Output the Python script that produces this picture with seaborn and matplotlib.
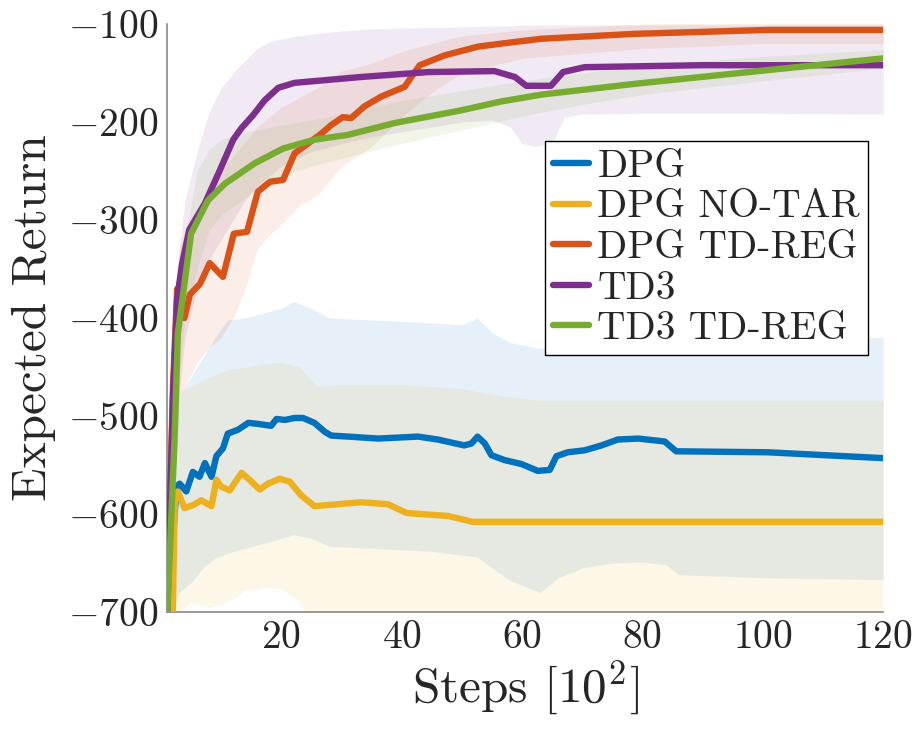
import pandas as pd
import numpy as np
import seaborn as sns
import matplotlib
matplotlib.use("Agg")
import matplotlib.pyplot as plt

# mean curves (steps in units of 10^2)
dpg_x = [1, 2.6, 3.1, 4.2, 5.3, 6.4, 7.3, 8.4, 9.2, 10.3, 11.1, 12.8, 14.5, 16.1, 18.3, 19.2,
         20.6, 22.2, 23.6, 25.5, 27.2, 28.3, 31.1, 36.1, 42.7, 46, 50.4, 51.6, 52.6, 53.8, 54.9,
         57.1, 59.9, 62.6, 64.6, 65.7, 67.6, 70.4, 73.2, 75.9, 79.3, 83.7, 85.6, 100.8, 120]
dpg_y = [-710, -572, -569, -577, -557, -562, -548, -562, -541, -533, -518, -514, -507, -508, -510, -503,
         -504, -502, -502, -507, -516, -520, -521, -523, -521, -524, -530, -528, -521, -528, -540,
         -545, -549, -556, -555, -541, -537, -535, -530, -524, -523, -526, -536, -537, -543]

notar_x = [1.9, 2.3, 2.8, 3.9, 5.3, 6.7, 8.4, 9.2, 10.0, 11.4, 13.4, 14.7, 16.4, 17.8, 19.7, 21.4,
           23.3, 25.5, 33.3, 37.7, 40.8, 47.7, 51.8, 60, 120]
notar_y = [-720, -586, -577, -594, -591, -586, -592, -565, -572, -576, -558, -565, -575, -569, -564, -567,
           -581, -592, -588, -590, -599, -602, -608, -608, -608]

dpgreg_x = [1, 2, 2.7, 3.9, 4.8, 6.5, 8.1, 10.3, 12.1, 14.3, 16.1, 18.1, 20.3, 22.2, 24.4, 26.6,
            28.3, 30.2, 31.6, 33.8, 36.6, 40.5, 41.6, 43, 47.1, 52.7, 56.5, 63.2, 78.7, 100.8, 120]
dpgreg_y = [-710, -470, -370, -400, -376, -365, -344, -358, -314, -312, -271, -261, -259, -232, -222, -212,
            -203, -195, -196, -184, -174, -164, -154, -142, -132, -123, -120, -115, -110, -106, -106]

td3_x = [1, 2, 2.7, 3.5, 4.7, 7.3, 9.8, 12.0, 13.4, 15.3, 17.2, 19.5, 22.2, 33.3, 44.4, 55.4,
         58.8, 60.7, 64.8, 66.8, 70.4, 89.8, 120]
td3_y = [-710, -480, -380, -345, -310, -283, -249, -218, -206, -193, -178, -165, -160, -154, -149, -148,
         -154, -163, -163, -149, -144, -142, -142]

td3reg_x = [1, 2.3, 2.8, 3.9, 5.0, 7.8, 10.6, 15.6, 20.3, 25.5, 31.1, 38.8, 49.9, 56.5, 63.2, 78.7, 100.8, 120]
td3reg_y = [-710, -517, -416, -365, -314, -280, -263, -242, -227, -218, -213, -201, -188, -179, -172, -161, -147, -135]

# shaded bands
dpg_bx = [1, 2, 3, 5, 7, 9, 11, 14, 17, 20, 22, 25, 28, 35, 45, 50, 52.6, 55, 58, 63, 66, 70, 75, 80, 84, 86, 100, 120]
dpg_hi = [-690, -560, -480, -460, -440, -420, -402, -400, -395, -390, -383, -390, -400, -402, -405, -407,
          -400, -415, -425, -431, -428, -422, -419, -418, -418, -419, -419, -420]
dpg_lo = [-720, -700, -680, -670, -655, -645, -640, -635, -630, -625, -621, -625, -633, -635, -638, -642,
          -644, -655, -668, -680, -665, -655, -650, -649, -652, -662, -665, -667]

notar_bx = [1, 2, 3, 5, 8, 11, 14, 17, 20, 23, 26, 30, 40, 50, 55, 60, 63, 66, 70, 80, 86, 100, 120]
notar_hi = [-690, -520, -475, -470, -460, -453, -450, -447, -445, -450, -470, -468, -468, -472, -478, -482,
            -484, -484, -484, -484, -484, -484, -484]
notar_lo = [-760, -720, -700, -690, -695, -690, -678, -675, -676, -690, -720, -720, -720, -720, -720, -725,
            -730, -725, -720, -720, -720, -720, -720]

dpgreg_bx = [1, 2, 3, 4, 6, 8, 10, 12, 14, 16, 18, 20, 23, 26, 30, 35, 40, 45, 50, 60, 80, 100, 120]
dpgreg_hi = [-640, -420, -330, -310, -290, -270, -250, -235, -220, -205, -195, -185, -175, -165, -148, -140,
             -128, -120, -112, -106, -100, -98, -98]
dpgreg_lo = [-720, -560, -480, -470, -445, -430, -420, -400, -370, -330, -315, -305, -285, -275, -245, -225,
             -195, -170, -150, -135, -125, -120, -120]

td3_bx = [1, 2, 3, 4, 6, 8, 10, 12, 14, 16, 18, 20, 25, 30, 35, 40, 50, 55, 58, 60, 62, 65, 67, 70, 80, 100, 120]
td3_hi = [-600, -400, -330, -280, -230, -190, -165, -150, -137, -125, -118, -115, -110, -107, -105, -104,
          -103, -102, -102, -101, -101, -101, -101, -101, -101, -101, -101]
td3_lo = [-720, -620, -480, -420, -370, -340, -320, -300, -280, -265, -255, -245, -230, -222, -215, -210,
          -200, -198, -205, -222, -225, -222, -195, -192, -191, -191, -192]

td3reg_bx = [1, 2, 3, 4, 6, 8, 10, 13, 16, 20, 25, 30, 40, 50, 60, 70, 80, 100, 120]
td3reg_hi = [-650, -480, -380, -320, -250, -228, -218, -212, -208, -203, -198, -192, -178, -168, -158,
             -150, -142, -133, -126]
td3reg_lo = [-720, -600, -460, -400, -350, -310, -295, -282, -268, -255, -245, -237, -222, -208, -194,
             -182, -172, -158, -145]

labels = ["DPG", "DPG NO-TAR", "DPG TD-REG", "TD3", "TD3 TD-REG"]
colors = ["#0072BD", "#EDB120", "#D95319", "#7E2F8E", "#77AC30"]

lines = [(dpg_x, dpg_y), (notar_x, notar_y), (dpgreg_x, dpgreg_y), (td3_x, td3_y), (td3reg_x, td3reg_y)]
bands = [(dpg_bx, dpg_lo, dpg_hi), (notar_bx, notar_lo, notar_hi), (dpgreg_bx, dpgreg_lo, dpgreg_hi),
         (td3_bx, td3_lo, td3_hi), (td3reg_bx, td3reg_lo, td3reg_hi)]

df = pd.concat([pd.DataFrame({"step": x, "ret": y, "method": lab})
                for (x, y), lab in zip(lines, labels)], ignore_index=True)

sns.set_style("white")
plt.rcParams["font.family"] = "cmr10"
plt.rcParams["mathtext.fontset"] = "cm"
plt.rcParams["axes.formatter.use_mathtext"] = True

fig = plt.figure(figsize=(9.2, 7.29), dpi=100)
ax = fig.add_axes([0.1815, 0.1605, 0.7785, 0.8065])

for (bx, lo, hi), c in zip(bands, colors):
    ax.fill_between(bx, lo, hi, color=c, alpha=0.1, linewidth=0, zorder=1)

sns.lineplot(data=df, x="step", y="ret", hue="method", hue_order=labels,
             palette=colors, linewidth=4.6, errorbar=None, sort=False, ax=ax, zorder=3)

ax.set_xlim(1, 120)
ax.set_ylim(-700, -100)
ax.set_xticks([20, 40, 60, 80, 100, 120])
ax.set_yticks([-700, -600, -500, -400, -300, -200, -100])
ax.tick_params(direction="in", length=5, width=1, color="#888888", labelsize=28.5, pad=6)
for s in ["top", "right"]:
    ax.spines[s].set_visible(False)
for s in ["left", "bottom"]:
    ax.spines[s].set_color("#888888")
    ax.spines[s].set_linewidth(1.2)

ax.set_xlabel("Steps [$10^2$]", fontsize=35.5, labelpad=2)
ax.set_ylabel("Expected Return", fontsize=35.5, labelpad=9)

leg = ax.legend(loc="upper left", bbox_to_anchor=(0.528, 0.801), borderaxespad=0,
                fontsize=28.5, frameon=True, fancybox=False, framealpha=1, edgecolor="black",
                handlelength=0.92, handletextpad=0.2, labelspacing=0.12, borderpad=0.2)
leg.get_frame().set_linewidth(1.0)
for h in leg.get_lines():
    h.set_linewidth(4.6)

fig.savefig("out.png", dpi=100)
